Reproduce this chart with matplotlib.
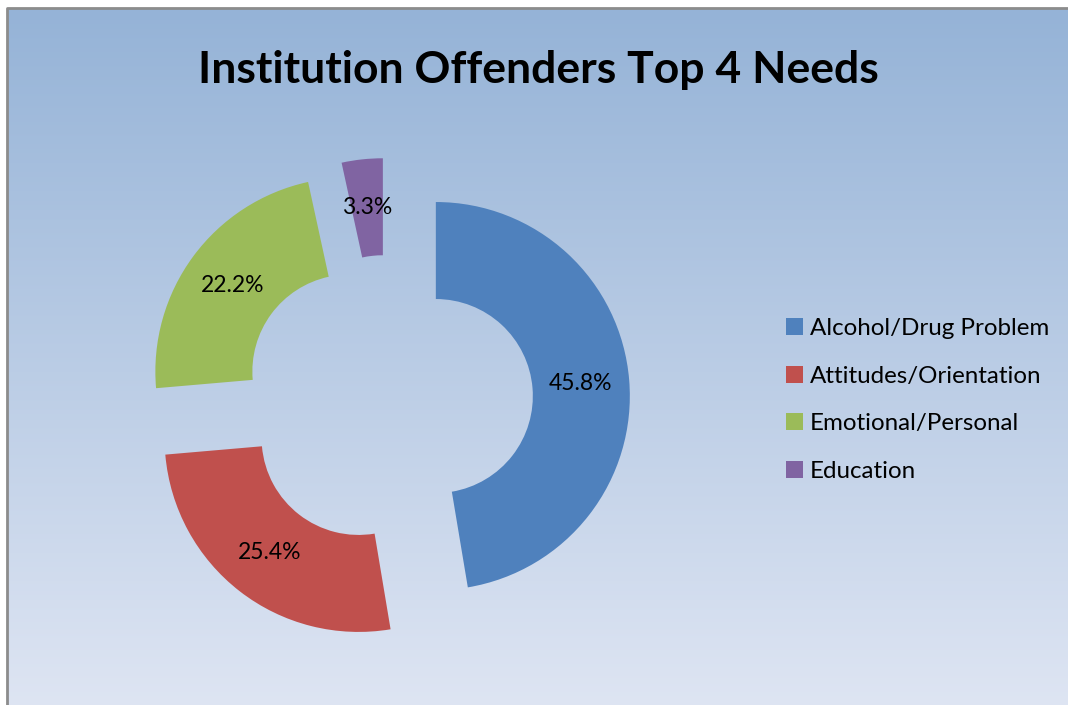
import numpy as np
import matplotlib.pyplot as plt
from matplotlib.colors import LinearSegmentedColormap

# Chart data
categories = ['Alcohol/Drug Problem', 'Attitudes/Orientation', 'Emotional/Personal', 'Education']
values = [45.8, 25.4, 22.2, 3.3]
labels = ['45.8%', '25.4%', '22.2%', '3.3%']
colors = ['#4F81BD', '#C0504D', '#9BBB59', '#8064A2']

plt.rcParams['font.family'] = ['Lato', 'DejaVu Sans']

W, H = 1068, 705
fig = plt.figure(figsize=(W / 100, H / 100), dpi=100)
ax = fig.add_axes([0, 0, 1, 1])

# gradient background inside the chart frame
bg = LinearSegmentedColormap.from_list('bg', ['#95B3D7', '#E1E7F4'])
grad = np.linspace(0, 1, 256).reshape(-1, 1)
ax.imshow(grad, cmap=bg, aspect='auto', extent=(7, W + 30, -30, H - 9),
          interpolation='bilinear', zorder=0)
ax.plot([7, 7, W + 5], [-5, H - 8, H - 8], color='#8C8C8C', lw=2, zorder=1,
        solid_capstyle='butt')

# exploded doughnut
R, ring = 194, 97
wedges, _ = ax.pie(values, colors=colors, radius=R, center=(388, 305),
                   startangle=90, counterclock=False,
                   explode=[48] * len(values),
                   wedgeprops=dict(width=ring, edgecolor='none'))
for w in wedges:
    w.set_zorder(2)

# percentage labels at the middle of each ring segment
for w, lab in zip(wedges, labels):
    ang = np.deg2rad((w.theta1 + w.theta2) / 2)
    r = w.r - ring / 2
    x = w.center[0] + r * np.cos(ang)
    y = w.center[1] + r * np.sin(ang)
    ax.text(x, y, lab, ha='center', va='center', fontsize=16.5, zorder=3)

ax.set_xlim(0, W)
ax.set_ylim(0, H)
ax.set_aspect('equal')
ax.axis('off')

fig.text(538 / W, 1 - 70 / H, 'Institution Offenders Top 4 Needs',
         ha='center', va='center', fontsize=32, fontweight='bold')

ax.legend(wedges, categories, loc='center left',
          bbox_to_anchor=(786 / W, 1 - 400 / H), frameon=False,
          borderaxespad=0, borderpad=0,
          fontsize=17.4, handlelength=0.7, handleheight=0.7,
          handletextpad=0.3, labelspacing=1.1)

fig.savefig('out.png', dpi=100, facecolor='white')
